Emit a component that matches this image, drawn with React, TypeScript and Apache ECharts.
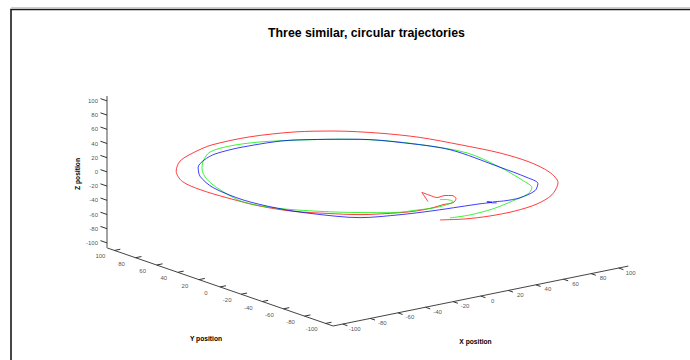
import React, { useEffect, useRef } from "react";
import * as echarts from "echarts";

const TITLE = "Three similar, circular trajectories";
const X_NAME = "X position";
const Y_NAME = "Y position";
const Z_NAME = "Z position";
const TICKS = [-100, -80, -60, -40, -20, 0, 20, 40, 60, 80, 100];
const LIM = 107;

// Trajectory 1 (red)
const redX = [0.4, 9.7, 9.4, 9.8, 16.1, 19.3, 17.1, 10.4, 3.1, -5.4, -16.3, -27.1, -47.9, -61.4, -74.1, -82.3, -86.4, -87.9, -85.2, -74.5, -59.3, -40.5, -23.4, 4.6, 31.6, 51.1, 68.8, 81.4, 90.1, 97.4, 98.9, 94.5, 84.7, 65.8, 46.9, 27.6, 9.6, -5.7, -18.4];
const redY = [-56.6, -38.6, -46.8, -52.8, -52.1, -54.6, -61.3, -67.3, -67.2, -68.9, -68.9, -66, -55.3, -41.7, -26.1, -5.6, 20.2, 43.9, 64.3, 84, 100.2, 110.7, 116.9, 117.5, 110.2, 97.7, 78.2, 57, 30.4, 2.1, -24.4, -49.1, -69.5, -88.4, -99, -103.4, -103.2, -99.6, -92.5];
const redZ = [0, 0, 0, 0, 0, 0, 0, 0, 0, 0, 0, 0, 0, 0, 0, 0, 0, 0, 0, 0, 0, 0, 0, 0, 0, 0, 0, 0, 0, 0, 0, 0, 0, 0, 0, 0, 0, 0, 0];

// Trajectory 2 (green)
const greenX = [8.5, 11.6, 11.7, 4.9, -4.5, -14, -30.3, -45.2, -61.9, -77.3, -84.6, -78.9, -71.3, -60.1, -48.9, -33.7, -16.5, 2.4, 23.2, 42.6, 59.4, 72, 82.5, 78.6, 71.5, 66.2, 56.4, 40.2, 20.3, 1.8, -11.2];
const greenY = [-57.3, -59.8, -65.5, -68.6, -69.7, -67.8, -63.5, -51.8, -35.7, -15.1, 7.5, 36.8, 59, 78.3, 92, 105.3, 108.7, 105.1, 94.4, 81.9, 65.9, 44.7, 13.8, -22.5, -53.5, -69, -78.2, -85.1, -92, -94.4, -92.6];
const greenZ = [0, 0, 0, 0, 0, 0, 0, 0, 0, 0, 0, 0, 0, 0, 0, 0, 0, 0, 0, 0, 0, 0, 0, 0, 0, 0, 0, 0, 0, 0, 0];

// Trajectory 3 (blue)
const blueX = [30, 28, 27, 29, 24, 21.2, 8.1, -9.5, -29.8, -51.9, -69.1, -77.3, -81.9, -79.3, -70.4, -59.2, -47.1, -34.1, -12, 20, 51.6, 65.7, 78.9, 78.6, 77.4, 74.3, 63.5, 47.3, 36.6, 29.7];
const blueY = [-83, -81.2, -77.6, -80, -79.5, -78.7, -76.8, -74.2, -69.5, -60.6, -35.7, -15.1, 11, 42.8, 66.7, 83.2, 93.4, 100.1, 102.4, 96.9, 74.8, 55.3, 25.2, -22.5, -49.7, -64.1, -75.4, -82.3, -82.3, -79.7];
const blueZ = [0, 0, 0, 0, 0, 0, 0, 0, 0, 0, 0, 0, 0, 0, 0, 0, 0, 0, 0, 0, 0, 0, 0, 0, 0, 0, 0, 0, 0, 0];

// Orthographic view used to flatten the 3-D box onto the page
const ORIGIN = [367.7, 181];
const EX = [1.38, -0.28];
const EY = [-1.056, -0.365];
const EZ = [0, -0.71];

const FONT = "Liberation Sans, Arial, Helvetica, sans-serif";

function project(x: number, y: number, z: number): [number, number] {
  return [
    ORIGIN[0] + x * EX[0] + y * EY[0] + z * EZ[0],
    ORIGIN[1] + x * EX[1] + y * EY[1] + z * EZ[1],
  ];
}

function unit(v: number[]): [number, number] {
  const l = Math.hypot(v[0], v[1]);
  return [v[0] / l, v[1] / l];
}

function traj(xs: number[], ys: number[], zs: number[]) {
  return xs.map((x, i) => project(x, ys[i], zs[i]));
}

function add(p: number[], d: number[], k = 1): [number, number] {
  return [p[0] + d[0] * k, p[1] + d[1] * k];
}

export default function App() {
  const ref = useRef<HTMLDivElement>(null);

  useEffect(() => {
    if (!ref.current) return;
    const chart = echarts.init(ref.current, undefined, { renderer: "svg" });

    const exn = unit(EX);
    const eyn = unit(EY);

    const xAxisLine = [project(-LIM, -LIM, -LIM), project(LIM, -LIM, -LIM)];
    const yAxisLine = [project(-LIM, LIM, -LIM), project(-LIM, -LIM, -LIM)];
    const zAxisLine = [project(-LIM, LIM, -LIM), project(-LIM, LIM, LIM)];

    const xTickPts = TICKS.map((t) => project(t, -LIM, -LIM));
    const yTickPts = TICKS.map((t) => project(-LIM, t, -LIM));
    const zTickPts = TICKS.map((t) => project(-LIM, LIM, t));

    const tickSegs = [
      ...xTickPts.map((p) => ({ coords: [p, add(p, eyn, -5)] })),
      ...yTickPts.map((p) => ({ coords: [p, add(p, exn, 6)] })),
      ...zTickPts.map((p) => ({ coords: [p, add(p, eyn, 7)] })),
    ];

    const labelStyle = {
      show: true,
      formatter: "{b}",
      fontSize: 6,
      color: "#222",
      fontFamily: FONT,
    };

    const hiddenSymbol = {
      type: "scatter",
      symbolSize: 0.1,
      itemStyle: { color: "rgba(0,0,0,0)" },
      silent: true,
    };

    const trajLine = (name: string, color: string, data: number[][]) => ({
      type: "line",
      name,
      showSymbol: false,
      silent: true,
      smooth: 0.3,
      lineStyle: { color, width: 0.9, opacity: 0.85 },
      data,
    });

    chart.setOption({
      animation: false,
      grid: { left: 0, top: 0, width: 690, height: 360 },
      xAxis: { type: "value", min: 0, max: 690, show: false },
      yAxis: { type: "value", min: 0, max: 360, inverse: true, show: false },
      series: [
        {
          type: "lines",
          coordinateSystem: "cartesian2d",
          silent: true,
          lineStyle: { color: "#444", width: 1, opacity: 1 },
          data: [{ coords: xAxisLine }, { coords: yAxisLine }],
        },
        {
          type: "lines",
          coordinateSystem: "cartesian2d",
          silent: true,
          lineStyle: { color: "#999", width: 1.8, opacity: 1 },
          data: [{ coords: zAxisLine }],
        },
        {
          type: "lines",
          coordinateSystem: "cartesian2d",
          silent: true,
          lineStyle: { color: "#333", width: 1, opacity: 1 },
          data: tickSegs,
        },
        {
          ...hiddenSymbol,
          label: { ...labelStyle, position: "inside", align: "center", verticalAlign: "middle" },
          data: xTickPts.map((p, i) => ({ name: String(TICKS[i]), value: add(p, [12, 4.5]) })),
        },
        {
          ...hiddenSymbol,
          label: { ...labelStyle, position: "inside", align: "center", verticalAlign: "middle" },
          data: yTickPts.map((p, i) => ({ name: String(TICKS[i]), value: add(p, [-14, 6]) })),
        },
        {
          ...hiddenSymbol,
          label: { ...labelStyle, position: "left", distance: 9 },
          data: zTickPts.map((p, i) => ({ name: String(TICKS[i]), value: p })),
        },
        trajLine("trajectory 1", "#ff0000", traj(redX, redY, redZ)),
        trajLine("trajectory 2", "#00ee00", traj(greenX, greenY, greenZ)),
        trajLine("trajectory 3", "#0000ff", traj(blueX, blueY, blueZ)),
      ],
      graphic: [
        {
          type: "rect",
          shape: { x: 11, y: 9.5, width: 720, height: 400 },
          style: { fill: "none", stroke: "#1a1a1a", lineWidth: 1.6 },
          silent: true,
        },
        {
          type: "line",
          shape: { x1: 11, y1: 7.8, x2: 690, y2: 7.8 },
          style: { stroke: "#bbb", lineWidth: 1 },
          silent: true,
        },
        {
          type: "text",
          x: 366.5,
          y: 32.5,
          style: {
            text: TITLE,
            fontSize: 12.3,
            fontWeight: "bold",
            fontFamily: FONT,
            fill: "#000",
            textAlign: "center",
            textVerticalAlign: "middle",
            align: "center",
            verticalAlign: "middle",
          },
        },
        {
          type: "text",
          x: 77.5,
          y: 174,
          rotation: Math.PI / 2,
          style: {
            text: Z_NAME,
            fontSize: 6.7,
            fontWeight: "bold",
            fontFamily: FONT,
            fill: "#000",
            textAlign: "center",
            textVerticalAlign: "middle",
            align: "center",
            verticalAlign: "middle",
          },
        },
        {
          type: "text",
          x: 206,
          y: 338,
          style: {
            text: Y_NAME,
            fontSize: 6.7,
            fontWeight: "bold",
            fontFamily: FONT,
            fill: "#000",
            textAlign: "center",
            textVerticalAlign: "middle",
            align: "center",
            verticalAlign: "middle",
          },
        },
        {
          type: "text",
          x: 475.5,
          y: 341.5,
          style: {
            text: X_NAME,
            fontSize: 6.7,
            fontWeight: "bold",
            fontFamily: FONT,
            fill: "#000",
            textAlign: "center",
            textVerticalAlign: "middle",
            align: "center",
            verticalAlign: "middle",
          },
        },
      ],
    });

    return () => chart.dispose();
  }, []);

  return (
    <div
      ref={ref}
      style={{ position: "fixed", left: 0, top: 0, width: 690, height: 360, background: "#fff" }}
    />
  );
}
